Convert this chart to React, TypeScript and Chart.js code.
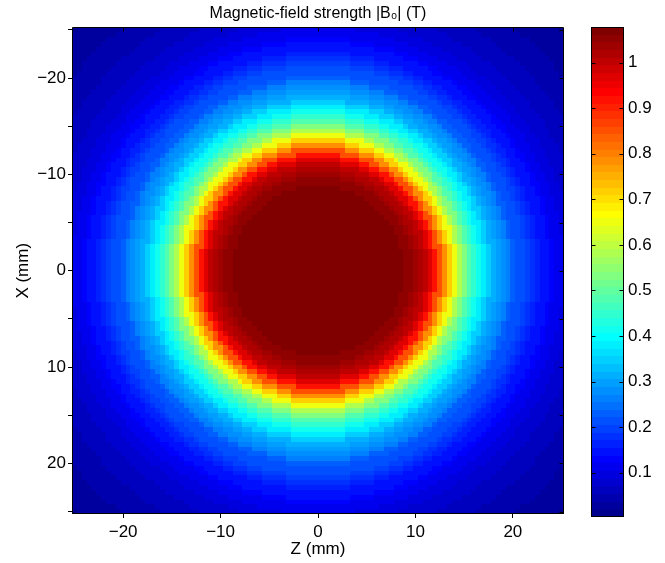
import React, { useEffect, useRef } from "react";
import { Chart, registerables } from "chart.js";

Chart.register(...registerables);

// ---- data ----
const Z_MIN = -25.25;
const Z_MAX = 25.25;
const X_MIN = -25.25;
const X_MAX = 25.25;
const CELL = 0.5; // mm, grid spacing
const Z_CENTERS: number[] = [];
const X_CENTERS: number[] = [];
for (let k = -50; k <= 50; k++) {
  Z_CENTERS.push(k * CELL);
  X_CENTERS.push(k * CELL);
}

// radial profile: |B0| (T) vs distance from centre (mm), 0.5 mm steps
const PROFILE_R = [
  0, 0.5, 1, 1.5, 2, 2.5, 3, 3.5, 4, 4.5, 5, 5.5, 6, 6.5, 7, 7.5, 8, 8.5, 9, 9.5,
  10, 10.5, 11, 11.5, 12, 12.5, 13, 13.5, 14, 14.5, 15, 15.5, 16, 16.5, 17, 17.5,
  18, 18.5, 19, 19.5, 20, 20.5, 21, 21.5, 22, 22.5, 23, 23.5, 24, 24.5, 25, 25.5,
  26, 26.5, 27, 27.5, 28, 28.5, 29, 29.5, 30, 30.5, 31, 31.5, 32, 32.5, 33, 33.5,
  34, 34.5, 35, 35.5, 36,
];
const PROFILE_B = [
  1.077, 1.077, 1.077, 1.077, 1.077, 1.077, 1.077, 1.076, 1.076, 1.075, 1.075, 1.074,
  1.073, 1.072, 1.071, 1.069, 1.067, 1.062, 1.055, 1.045, 1.033, 1.018, 0.996, 0.962,
  0.912, 0.852, 0.785, 0.715, 0.65, 0.59, 0.535, 0.485, 0.443, 0.407, 0.376, 0.348,
  0.322, 0.298, 0.276, 0.256, 0.238, 0.221, 0.206, 0.192, 0.176, 0.163, 0.151, 0.14,
  0.126, 0.115, 0.104, 0.097, 0.091, 0.085, 0.079, 0.074, 0.069, 0.064, 0.059, 0.055,
  0.051, 0.047, 0.043, 0.04, 0.037, 0.034, 0.031, 0.028, 0.026, 0.023, 0.021, 0.019,
  0.017,
];

const C_MIN = 0.003;
const C_MAX = 1.078;
const X_TICKS = [-20, -10, 0, 10, 20];
const Y_TICKS = [-25, -20, -15, -10, -5, 0, 5, 10, 15, 20, 25];
const Y_LABELED = [-20, -10, 0, 10, 20];
const CB_TICKS = [0.1, 0.2, 0.3, 0.4, 0.5, 0.6, 0.7, 0.8, 0.9, 1];

const TITLE = "Magnetic-field strength |B\u2080| (T)";
const X_TITLE = "Z (mm)";
const Y_TITLE = "X (mm)";

// ---- helpers ----
function lookupField(x: number, z: number): number {
  const r = Math.sqrt(x * x + z * z);
  let best = 0;
  let bd = Infinity;
  for (let i = 0; i < PROFILE_R.length; i++) {
    const d = Math.abs(PROFILE_R[i] - r);
    if (d < bd) {
      bd = d;
      best = i;
    }
  }
  return PROFILE_B[best];
}

function jet(m: number): string[] {
  const n = Math.ceil(m / 4);
  const u: number[] = [];
  for (let k = 1; k <= n; k++) u.push(k / n);
  for (let k = 1; k <= n - 1; k++) u.push(1);
  for (let k = n; k >= 1; k--) u.push(k / n);
  const gOff = Math.ceil(n / 2) - (m % 4 === 1 ? 1 : 0);
  const R = new Array(m).fill(0);
  const G = new Array(m).fill(0);
  const B = new Array(m).fill(0);
  const g: number[] = [];
  for (let k = 1; k <= u.length; k++) g.push(gOff + k);
  const r = g.map((v) => v + n).filter((v) => v <= m);
  const gg = g.filter((v) => v <= m);
  const b = g.map((v) => v - n).filter((v) => v >= 1);
  r.forEach((idx, k) => (R[idx - 1] = u[k]));
  gg.forEach((idx, k) => (G[idx - 1] = u[k]));
  b.forEach((idx, k) => (B[idx - 1] = u[u.length - b.length + k]));
  const out: string[] = [];
  for (let i = 0; i < m; i++) {
    out.push(
      `rgb(${Math.round(R[i] * 255)},${Math.round(G[i] * 255)},${Math.round(B[i] * 255)})`
    );
  }
  return out;
}

const JET = jet(64);
function colorFor(v: number): string {
  let idx = Math.floor(((v - C_MIN) / (C_MAX - C_MIN)) * 64);
  if (idx < 0) idx = 0;
  if (idx > 63) idx = 63;
  return JET[idx];
}

const fmt = (v: number) => (v < 0 ? "\u2212" + Math.abs(v) : String(v));
const FONT_FAMILY = "'Liberation Sans', Arial, Helvetica, sans-serif";

export default function App() {
  const mainRef = useRef<HTMLCanvasElement>(null);
  const cbRef = useRef<HTMLCanvasElement>(null);

  useEffect(() => {
    if (!mainRef.current || !cbRef.current) return;

    const heatmapPlugin = {
      id: "heatmap",
      beforeDatasetsDraw(chart: any) {
        const { ctx } = chart;
        const xs = chart.scales.x;
        const ys = chart.scales.y;
        ctx.save();
        for (let i = 0; i < X_CENTERS.length; i++) {
          const xv = X_CENTERS[i];
          const ya = Math.round(ys.getPixelForValue(xv - CELL / 2));
          const yb = Math.round(ys.getPixelForValue(xv + CELL / 2));
          for (let j = 0; j < Z_CENTERS.length; j++) {
            const zv = Z_CENTERS[j];
            const xa = Math.round(xs.getPixelForValue(zv - CELL / 2));
            const xb = Math.round(xs.getPixelForValue(zv + CELL / 2));
            ctx.fillStyle = colorFor(lookupField(xv, zv));
            ctx.fillRect(
              Math.min(xa, xb),
              Math.min(ya, yb),
              Math.abs(xb - xa),
              Math.abs(yb - ya)
            );
          }
        }
        ctx.restore();
      },
      afterDraw(chart: any) {
        const { ctx, chartArea } = chart;
        const xs = chart.scales.x;
        const ys = chart.scales.y;
        const l = Math.floor(chartArea.left) + 0.5;
        const t = Math.floor(chartArea.top) + 0.5;
        const r = Math.ceil(chartArea.right) - 0.5;
        const b = Math.ceil(chartArea.bottom) - 0.5;
        ctx.save();
        ctx.strokeStyle = "#000";
        ctx.lineWidth = 1;
        ctx.beginPath();
        ctx.rect(l, t, r - l, b - t);
        X_TICKS.forEach((v) => {
          const px = Math.round(xs.getPixelForValue(v)) + 0.5;
          ctx.moveTo(px, t);
          ctx.lineTo(px, t + 4);
        });
        Y_TICKS.forEach((v) => {
          const py = Math.round(ys.getPixelForValue(v)) + 0.5;
          ctx.moveTo(r, py);
          ctx.lineTo(r - 4, py);
        });
        ctx.stroke();
        // title centred over the plot area
        ctx.fillStyle = "#000";
        ctx.font = `16px ${FONT_FAMILY}`;
        ctx.textAlign = "center";
        ctx.textBaseline = "middle";
        ctx.fillText(TITLE, (chartArea.left + chartArea.right) / 2, 14);
        ctx.restore();
      },
    };

    const tickFont = { family: FONT_FAMILY, size: 17 };

    const main = new Chart(mainRef.current, {
      type: "scatter",
      data: { datasets: [{ data: [], pointRadius: 0 }] },
      options: {
        animation: false,
        responsive: false,
        devicePixelRatio: 1,
        layout: { padding: { left: 0, top: 27.5, right: 101, bottom: 0 } },
        plugins: {
          legend: { display: false },
          tooltip: { enabled: false },
          title: { display: false },
        },
        scales: {
          x: {
            type: "linear",
            min: Z_MIN,
            max: Z_MAX,
            afterBuildTicks: (s: any) => {
              s.ticks = X_TICKS.map((v) => ({ value: v }));
            },
            afterFit: (s: any) => {
              s.height = 49;
            },
            grid: {
              drawOnChartArea: false,
              drawTicks: true,
              tickLength: 4,
              color: "#000",
              tickColor: "#000",
            },
            border: { display: false },
            ticks: {
              color: "#000",
              font: tickFont,
              padding: 4,
              maxRotation: 0,
              autoSkip: false,
              callback: (v: any) => fmt(Number(v)),
            },
            title: {
              display: true,
              text: X_TITLE,
              color: "#000",
              font: tickFont,
              padding: 3,
            },
          },
          y: {
            type: "linear",
            reverse: true,
            min: X_MIN,
            max: X_MAX,
            afterBuildTicks: (s: any) => {
              s.ticks = Y_TICKS.map((v) => ({ value: v }));
            },
            afterFit: (s: any) => {
              s.width = 72;
            },
            grid: {
              drawOnChartArea: false,
              drawTicks: true,
              tickLength: 4,
              color: "#000",
              tickColor: "#000",
            },
            border: { display: false },
            ticks: {
              color: "#000",
              font: tickFont,
              padding: 2,
              autoSkip: false,
              callback: (v: any) =>
                Y_LABELED.includes(Number(v)) ? fmt(Number(v)) : "",
            },
            title: {
              display: true,
              text: Y_TITLE,
              color: "#000",
              font: tickFont,
              padding: 13.3,
            },
          },
        },
      },
      plugins: [heatmapPlugin],
    } as any);

    const colorbarPlugin = {
      id: "colorbar",
      beforeDatasetsDraw(chart: any) {
        const { ctx, chartArea } = chart;
        const ys = chart.scales.y;
        ctx.save();
        const step = (C_MAX - C_MIN) / 64;
        for (let i = 0; i < 64; i++) {
          const y0 = Math.round(ys.getPixelForValue(C_MIN + i * step));
          const y1 = Math.round(ys.getPixelForValue(C_MIN + (i + 1) * step));
          ctx.fillStyle = JET[i];
          ctx.fillRect(
            chartArea.left,
            Math.min(y0, y1),
            chartArea.right - chartArea.left,
            Math.abs(y0 - y1)
          );
        }
        ctx.restore();
      },
      afterDraw(chart: any) {
        const { ctx, chartArea } = chart;
        const ys = chart.scales.y;
        const l = Math.floor(chartArea.left) + 0.5;
        const t = Math.floor(chartArea.top) + 0.5;
        const r = Math.ceil(chartArea.right) - 0.5;
        const b = Math.ceil(chartArea.bottom) - 0.5;
        ctx.save();
        ctx.strokeStyle = "#000";
        ctx.lineWidth = 1;
        ctx.beginPath();
        ctx.rect(l, t, r - l, b - t);
        CB_TICKS.forEach((v) => {
          const py = Math.round(ys.getPixelForValue(v)) + 0.5;
          ctx.moveTo(l, py);
          ctx.lineTo(l + 4, py);
          ctx.moveTo(r, py);
          ctx.lineTo(r - 4, py);
        });
        ctx.stroke();
        ctx.restore();
      },
    };

    const cb = new Chart(cbRef.current, {
      type: "scatter",
      data: { datasets: [{ data: [], pointRadius: 0 }] },
      options: {
        animation: false,
        responsive: false,
        devicePixelRatio: 1,
        layout: { padding: { left: 6, top: 27, right: 0, bottom: 46 } },
        plugins: {
          legend: { display: false },
          tooltip: { enabled: false },
          title: { display: false },
        },
        scales: {
          x: { type: "linear", display: false, min: 0, max: 1 },
          y: {
            type: "linear",
            position: "right",
            min: C_MIN,
            max: C_MAX,
            afterBuildTicks: (s: any) => {
              s.ticks = CB_TICKS.map((v) => ({ value: v }));
            },
            afterFit: (s: any) => {
              s.width = 41;
            },
            grid: { drawOnChartArea: false, drawTicks: false },
            border: { display: false },
            ticks: {
              color: "#000",
              font: tickFont,
              padding: 4,
              autoSkip: false,
              callback: (v: any) => {
                const n = Number(v);
                return n === 1 ? "1" : n.toFixed(1);
              },
            },
          },
        },
      },
      plugins: [colorbarPlugin],
    } as any);

    return () => {
      main.destroy();
      cb.destroy();
    };
  }, []);

  return (
    <div style={{ position: "absolute", left: 0, top: 0, width: 665, height: 563 }}>
      <canvas
        ref={mainRef}
        width={665}
        height={563}
        style={{ position: "absolute", left: 0, top: 0, width: 665, height: 563 }}
      />
      <canvas
        ref={cbRef}
        width={80}
        height={563}
        style={{ position: "absolute", left: 585, top: 0, width: 80, height: 563 }}
      />
    </div>
  );
}
